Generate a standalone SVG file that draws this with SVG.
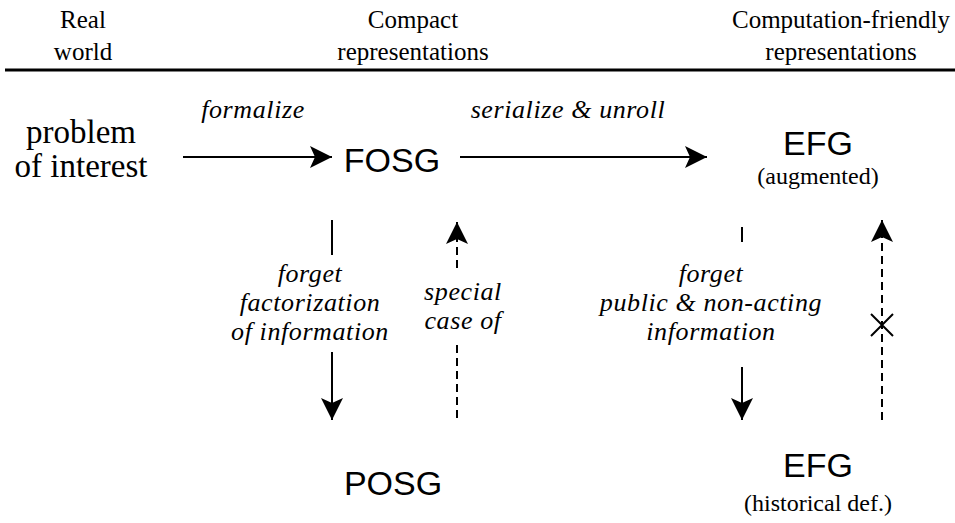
<svg xmlns="http://www.w3.org/2000/svg" width="955" height="523" viewBox="0 0 955 523">
<style>
.hdr{font-family:"Liberation Serif","Times New Roman",serif;font-size:25px;fill:#000;text-anchor:middle}
.rw{font-family:"Liberation Serif","Times New Roman",serif;font-size:33px;fill:#000;text-anchor:middle}
.node{font-family:"Liberation Sans",Arial,sans-serif;font-size:34px;fill:#000;text-anchor:middle}
.sub{font-family:"Liberation Serif","Times New Roman",serif;font-size:24px;fill:#000;text-anchor:middle}
.lbl{font-family:"Liberation Serif","Times New Roman",serif;font-style:italic;font-size:26px;letter-spacing:0.6px;fill:#000;text-anchor:middle}
.ln{stroke:#000;stroke-width:2;fill:none}
.dash{stroke-dasharray:8 5}
</style>
<defs>
<marker id="ah" markerWidth="24" markerHeight="24" refX="22" refY="12" orient="auto" markerUnits="userSpaceOnUse">
<path d="M0,1 L22,12 L0,23 L5,12 Z" fill="#000"/>
</marker>
</defs>
<rect width="955" height="523" fill="#fff"/>
<g id="header">
<text class="hdr" x="83" y="28">Real</text>
<text class="hdr" x="83" y="60">world</text>
<text class="hdr" x="413" y="28">Compact</text>
<text class="hdr" x="413" y="60">representations</text>
<text class="hdr" x="841" y="28">Computation-friendly</text>
<text class="hdr" x="841" y="60">representations</text>
<line x1="5" y1="70" x2="955" y2="70" stroke="#000" stroke-width="3"/>
</g>
<g id="node-problem">
<text class="rw" x="81" y="143">problem</text>
<text class="rw" x="81" y="177">of interest</text>
</g>
<g id="node-fosg"><text class="node" x="392" y="172">FOSG</text></g>
<g id="node-efg-aug">
<text class="node" x="818" y="155">EFG</text>
<text class="sub" x="818" y="184">(augmented)</text>
</g>
<g id="node-posg"><text class="node" x="393" y="495">POSG</text></g>
<g id="node-efg-hist">
<text class="node" x="818" y="477">EFG</text>
<text class="sub" x="818" y="511">(historical def.)</text>
</g>
<g id="connectors">
<line class="ln" x1="183" y1="157" x2="332" y2="157" marker-end="url(#ah)"/>
<text class="lbl" x="253" y="118">formalize</text>
<line class="ln" x1="460" y1="157" x2="707" y2="157" marker-end="url(#ah)"/>
<text class="lbl" x="568" y="118">serialize &amp; unroll</text>
<line class="ln" x1="332" y1="220" x2="332" y2="255"/>
<line class="ln" x1="332" y1="352" x2="332" y2="420" marker-end="url(#ah)"/>
<text class="lbl" x="310" y="282">forget</text>
<text class="lbl" x="310" y="311">factorization</text>
<text class="lbl" x="310" y="340">of information</text>
<line class="ln dash" x1="457" y1="418" x2="457" y2="343"/>
<line class="ln dash" x1="457" y1="268" x2="457" y2="222" marker-end="url(#ah)"/>
<text class="lbl" x="463" y="300">special</text>
<text class="lbl" x="463" y="329">case of</text>
<line class="ln" x1="742" y1="227" x2="742" y2="242"/>
<line class="ln" x1="742" y1="367" x2="742" y2="420" marker-end="url(#ah)"/>
<text class="lbl" x="711" y="282">forget</text>
<text class="lbl" x="711" y="311">public &amp; non-acting</text>
<text class="lbl" x="711" y="340">information</text>
<line class="ln dash" x1="882" y1="420" x2="882" y2="220" marker-end="url(#ah)"/>
<path class="ln" d="M871,314 L893,336 M893,314 L871,336"/>
</g>
</svg>
